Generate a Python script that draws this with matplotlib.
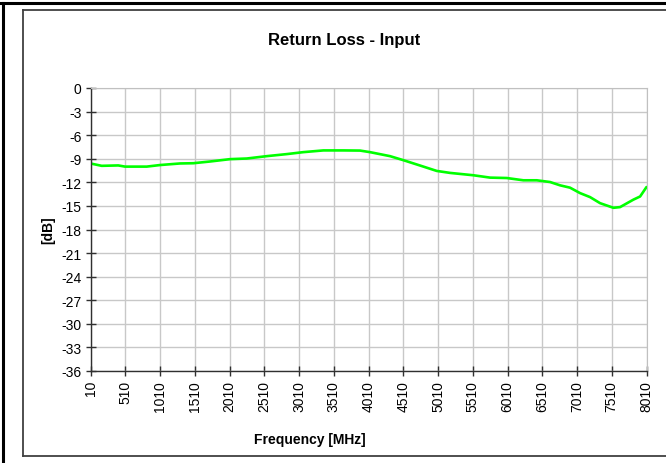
import matplotlib
matplotlib.use("Agg")
import matplotlib.pyplot as plt
from matplotlib.lines import Line2D

plt.rcParams["font.family"] = ["Liberation Sans", "DejaVu Sans"]
plt.rcParams["axes.unicode_minus"] = False

# return loss
freq_mhz = [10, 171, 410, 506, 819, 1010, 1298, 1489, 1730, 2018, 2258, 2546,
            2833, 3072, 3360, 3648, 3888, 4032, 4128, 4320, 4511, 4751, 4992,
            5183, 5519, 5759, 5999, 6238, 6431, 6622, 6766, 6910, 7054, 7198,
            7342, 7534, 7630, 7822, 7918, 8010]
rl_db = [-9.6, -9.9, -9.85, -10.0, -10.0, -9.8, -9.6, -9.57, -9.35, -9.05,
         -8.97, -8.67, -8.41, -8.16, -7.94, -7.94, -7.96, -8.16, -8.33, -8.67,
         -9.18, -9.86, -10.55, -10.8, -11.1, -11.4, -11.45, -11.74, -11.74,
         -11.96, -12.38, -12.68, -13.37, -13.88, -14.65, -15.24, -15.15, -14.2,
         -13.8, -12.6]

x_ticks = list(range(10, 8011, 500))
y_ticks = list(range(0, -37, -3))

W, H = 666.0, 464.0
fig = plt.figure(figsize=(6.66, 4.64), dpi=100)
ax = fig.add_axes([90.5 / W, 92 / H, 556 / W, 283 / H])

ax.plot(freq_mhz, rl_db, color="#00ff00", lw=1.9, solid_capstyle="round")

ax.set_xlim(10, 8010)
ax.set_ylim(-36, 0)
ax.set_xticks(x_ticks)
ax.set_xticklabels([str(t) for t in x_ticks], rotation=90)
ax.set_yticks(y_ticks)
ax.grid(True, color="#c8c8c8", lw=1)
ax.set_axisbelow(True)

for s in ["top", "right"]:
    ax.spines[s].set_color("#c0c0c0")
for s in ["left", "bottom"]:
    ax.spines[s].set_color("#303030")
    ax.spines[s].set_linewidth(1)
ax.tick_params(direction="inout", length=7, width=1, color="#303030",
               labelsize=10, pad=3)

# Excel-style placement of title and axis titles
fig.text(344 / W, 1 - 40 / H, "Return Loss - Input", fontsize=12,
         fontweight="bold", ha="center", va="center")
fig.text(310 / W, 1 - 440 / H, "Frequency [MHz]", fontsize=10,
         fontweight="bold", ha="center", va="center")
fig.text(48 / W, 1 - 230 / H, "[dB]", fontsize=10, fontweight="bold",
         ha="center", va="center", rotation=90)

# outer black frame and inner gray chart frame
fig.add_artist(Line2D([0, 1], [1 - 4 / H, 1 - 4 / H], color="black", lw=2.2))
fig.add_artist(Line2D([3 / W, 3 / W], [0, 1 - 4 / H], color="black", lw=2.2))
fig.add_artist(Line2D([23 / W, 1], [1 - 11 / H, 1 - 11 / H], color="#404040", lw=1.3))
fig.add_artist(Line2D([23 / W, 23 / W], [1 - 457 / H, 1 - 11 / H], color="#404040", lw=1.3))
fig.add_artist(Line2D([23 / W, 1], [1 - 457 / H, 1 - 457 / H], color="#404040", lw=1.3))

fig.savefig("out.png", dpi=100)
